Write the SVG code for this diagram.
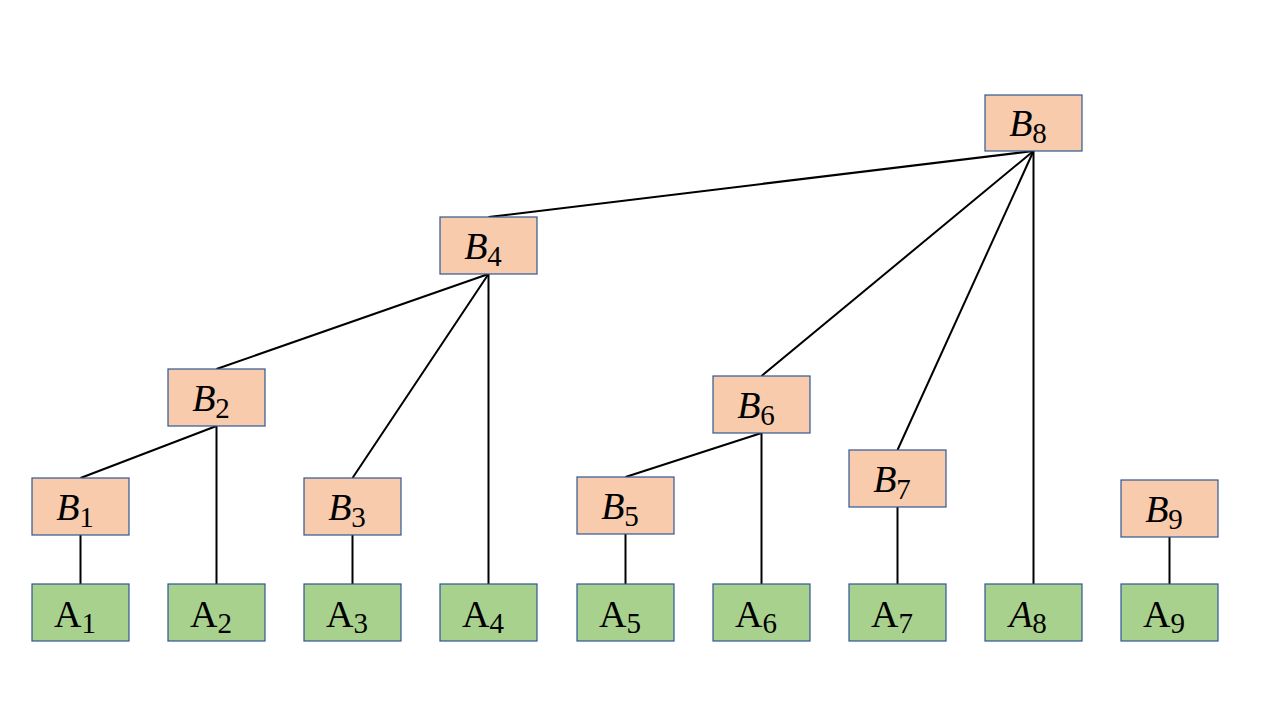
<svg xmlns="http://www.w3.org/2000/svg" width="1272" height="713" viewBox="0 0 1272 713">
<style>
.b{fill:#F8CBAD;stroke:#2F5597;stroke-width:1.2}
.a{fill:#A9D18E;stroke:#2F5597;stroke-width:1.2}
.t{font-family:"Liberation Serif","DejaVu Serif",serif;font-size:38px;fill:#000;text-anchor:middle}
.i{font-style:italic}
.s{font-size:29px;font-style:normal}
.c line{stroke:#000;stroke-width:2}
</style>
<rect width="1272" height="713" fill="#fff"/>
<g class="c" id="connectors">
<line x1="1033.5" y1="151" x2="488.5" y2="217"/>
<line x1="1033.5" y1="151" x2="761.5" y2="376"/>
<line x1="1033.5" y1="151" x2="897.5" y2="450"/>
<line x1="1033.5" y1="151" x2="1033.5" y2="584"/>
<line x1="488.5" y1="274" x2="216.5" y2="369"/>
<line x1="488.5" y1="274" x2="352.5" y2="478"/>
<line x1="488.5" y1="274" x2="488.5" y2="584"/>
<line x1="216.5" y1="426" x2="80.5" y2="478"/>
<line x1="216.5" y1="426" x2="216.5" y2="584"/>
<line x1="761.5" y1="433" x2="625.5" y2="477"/>
<line x1="761.5" y1="433" x2="761.5" y2="584"/>
<line x1="80.5" y1="535" x2="80.5" y2="584"/>
<line x1="352.5" y1="535" x2="352.5" y2="584"/>
<line x1="625.5" y1="534" x2="625.5" y2="584"/>
<line x1="897.5" y1="507" x2="897.5" y2="584"/>
<line x1="1169.5" y1="537" x2="1169.5" y2="584"/>
</g>
<g id="B8"><rect class="b" x="985" y="95" width="97" height="56"/><text class="t" x="1028" y="136"><tspan class="i">B</tspan><tspan class="s" dy="7">8</tspan></text></g>
<g id="B4"><rect class="b" x="440" y="217" width="97" height="57"/><text class="t" x="483" y="259"><tspan class="i">B</tspan><tspan class="s" dy="7">4</tspan></text></g>
<g id="B2"><rect class="b" x="168" y="369" width="97" height="57"/><text class="t" x="211" y="411"><tspan class="i">B</tspan><tspan class="s" dy="7">2</tspan></text></g>
<g id="B6"><rect class="b" x="713" y="376" width="97" height="57"/><text class="t" x="756" y="418"><tspan class="i">B</tspan><tspan class="s" dy="7">6</tspan></text></g>
<g id="B1"><rect class="b" x="32" y="478" width="97" height="57"/><text class="t" x="75" y="520"><tspan class="i">B</tspan><tspan class="s" dy="7">1</tspan></text></g>
<g id="B3"><rect class="b" x="304" y="478" width="97" height="57"/><text class="t" x="347" y="520"><tspan class="i">B</tspan><tspan class="s" dy="7">3</tspan></text></g>
<g id="B5"><rect class="b" x="577" y="477" width="97" height="57"/><text class="t" x="620" y="519"><tspan class="i">B</tspan><tspan class="s" dy="7">5</tspan></text></g>
<g id="B7"><rect class="b" x="849" y="450" width="97" height="57"/><text class="t" x="892" y="492"><tspan class="i">B</tspan><tspan class="s" dy="7">7</tspan></text></g>
<g id="B9"><rect class="b" x="1121" y="480" width="97" height="57"/><text class="t" x="1164" y="522"><tspan class="i">B</tspan><tspan class="s" dy="7">9</tspan></text></g>
<g id="A1"><rect class="a" x="32" y="584" width="97" height="57"/><text class="t" x="75" y="627">A<tspan class="s" dy="6">1</tspan></text></g>
<g id="A2"><rect class="a" x="168" y="584" width="97" height="57"/><text class="t" x="211" y="627">A<tspan class="s" dy="6">2</tspan></text></g>
<g id="A3"><rect class="a" x="304" y="584" width="97" height="57"/><text class="t" x="347" y="627">A<tspan class="s" dy="6">3</tspan></text></g>
<g id="A4"><rect class="a" x="440" y="584" width="97" height="57"/><text class="t" x="483" y="627">A<tspan class="s" dy="6">4</tspan></text></g>
<g id="A5"><rect class="a" x="577" y="584" width="97" height="57"/><text class="t" x="620" y="627">A<tspan class="s" dy="6">5</tspan></text></g>
<g id="A6"><rect class="a" x="713" y="584" width="97" height="57"/><text class="t" x="756" y="627">A<tspan class="s" dy="6">6</tspan></text></g>
<g id="A7"><rect class="a" x="849" y="584" width="97" height="57"/><text class="t" x="892" y="627">A<tspan class="s" dy="6">7</tspan></text></g>
<g id="A8"><rect class="a" x="985" y="584" width="97" height="57"/><text class="t" x="1028" y="627"><tspan class="i">A</tspan><tspan class="s" dy="6">8</tspan></text></g>
<g id="A9"><rect class="a" x="1121" y="584" width="97" height="57"/><text class="t" x="1164" y="627">A<tspan class="s" dy="6">9</tspan></text></g>
</svg>
